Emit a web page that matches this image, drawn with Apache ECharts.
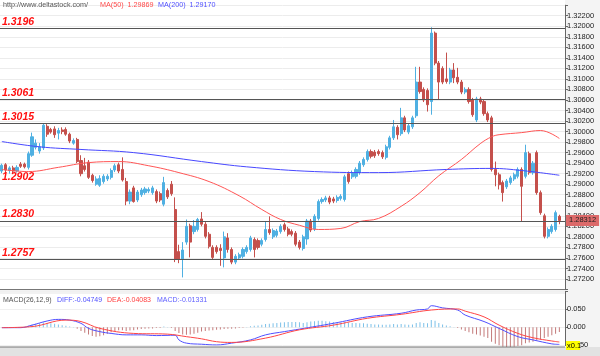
<!DOCTYPE html>
<html><head><meta charset="utf-8">
<script src="https://cdn.jsdelivr.net/npm/echarts@6/dist/echarts.min.js"></script>
<style>html,body{margin:0;padding:0;background:#fff}#c{width:600px;height:356px}</style>
</head><body><div id="c"></div>
<script>
const opens=[1.2925,1.2937,1.2926,1.2931,1.2925,1.2938,1.2938,1.2932,1.2955,1.2970,1.2963,1.2969,1.3010,1.3004,1.3005,1.2997,1.3003,1.3004,1.2995,1.2978,1.2985,1.2945,1.2935,1.2942,1.2917,1.2900,1.2898,1.2905,1.2910,1.2913,1.2927,1.2937,1.2928,1.2905,1.2868,1.2893,1.2870,1.2880,1.2884,1.2887,1.2884,1.2886,1.2882,1.2862,1.2888,1.2900,1.2852,1.2772,1.2757,1.2790,1.2821,1.2810,1.2814,1.2834,1.2824,1.2805,1.2780,1.2780,1.2778,1.2760,1.2798,1.2776,1.2752,1.2760,1.2763,1.2772,1.2776,1.2795,1.2793,1.2786,1.2795,1.2814,1.2800,1.2803,1.2810,1.2823,1.2815,1.2810,1.2807,1.2790,1.2778,1.2796,1.2830,1.2815,1.2835,1.2867,1.2870,1.2874,1.2872,1.2869,1.2873,1.2871,1.2920,1.2914,1.2915,1.2922,1.2937,1.2947,1.2962,1.2961,1.2962,1.2960,1.2951,1.2970,1.2988,1.3008,1.2996,1.3026,1.2999,1.3009,1.3030,1.3094,1.3080,1.3078,1.3057,1.3187,1.3130,1.3120,1.3100,1.3094,1.3117,1.3103,1.3094,1.3075,1.3080,1.3060,1.3022,1.3062,1.3057,1.3034,1.3026,1.2928,1.2918,1.2903,1.2895,1.2903,1.2910,1.2915,1.2928,1.2915,1.2958,1.2922,1.2960,1.2884,1.2840,1.2801,1.2810,1.2814,1.2839];
const closes=[1.2936,1.2927,1.2931,1.2925,1.2932,1.2934,1.2933,1.2958,1.2990,1.2978,1.2971,1.3012,1.2995,1.2999,1.2994,1.3002,1.3000,1.2995,1.2982,1.2983,1.2943,1.2920,1.2928,1.2913,1.2907,1.2910,1.2911,1.2915,1.2915,1.2926,1.2935,1.2925,1.2908,1.2868,1.2885,1.2867,1.2885,1.2889,1.2891,1.2890,1.2893,1.2868,1.2870,1.2903,1.2876,1.2882,1.2757,1.2757,1.2775,1.2820,1.2790,1.2820,1.2833,1.2824,1.2801,1.2782,1.2761,1.2772,1.2774,1.2800,1.2776,1.2752,1.2763,1.2766,1.2776,1.2780,1.2798,1.2776,1.2780,1.2793,1.2814,1.2808,1.2812,1.2811,1.2820,1.2814,1.2805,1.2805,1.2786,1.2780,1.2800,1.2830,1.2813,1.2839,1.2867,1.2871,1.2874,1.2866,1.2868,1.2875,1.2877,1.2914,1.2905,1.2922,1.2928,1.2940,1.2947,1.2962,1.2953,1.2954,1.2958,1.2952,1.2971,1.2988,1.3009,1.2994,1.3026,1.3003,1.3011,1.3026,1.3094,1.3076,1.3060,1.3051,1.3187,1.3130,1.3094,1.3094,1.3095,1.3117,1.3102,1.3094,1.3075,1.3080,1.3057,1.3032,1.3062,1.3056,1.3034,1.3022,1.2928,1.2918,1.2899,1.2884,1.2906,1.2912,1.2918,1.2928,1.2896,1.2960,1.2922,1.2940,1.2884,1.2846,1.2801,1.2814,1.2820,1.2846,1.28312];
const lows=[1.2921,1.2922,1.2920,1.2921,1.2922,1.2931,1.2930,1.2928,1.2952,1.2966,1.2958,1.2965,1.2990,1.2996,1.2988,1.2985,1.2995,1.2992,1.2978,1.2975,1.2940,1.2915,1.2924,1.2910,1.2903,1.2897,1.2895,1.2901,1.2906,1.2909,1.2923,1.2921,1.2905,1.2860,1.2862,1.2865,1.2866,1.2876,1.2880,1.2883,1.2880,1.2864,1.2866,1.2858,1.2872,1.2878,1.2752,1.2750,1.2723,1.2785,1.2761,1.2805,1.2810,1.2820,1.2797,1.2778,1.2757,1.2768,1.2745,1.2742,1.2770,1.2748,1.2748,1.2756,1.2759,1.2768,1.2772,1.2761,1.2776,1.2782,1.2791,1.2804,1.2796,1.2799,1.2806,1.2810,1.2801,1.2801,1.2782,1.2776,1.2774,1.2785,1.2809,1.2811,1.2831,1.2863,1.2866,1.2862,1.2864,1.2865,1.2869,1.2867,1.2901,1.2910,1.2911,1.2918,1.2933,1.2943,1.2949,1.2950,1.2954,1.2948,1.2947,1.2966,1.2984,1.2985,1.2992,1.2999,1.2995,1.3005,1.3026,1.3072,1.3056,1.3038,1.3032,1.3126,1.3060,1.3090,1.3091,1.3090,1.3092,1.3090,1.3071,1.3071,1.3053,1.3028,1.3018,1.3052,1.3030,1.3018,1.2924,1.2896,1.2890,1.2867,1.2891,1.2899,1.2906,1.2911,1.2830,1.2911,1.2918,1.2918,1.2880,1.2842,1.2797,1.2797,1.2806,1.2810,1.2824];
const highs=[1.2939,1.2940,1.2934,1.2935,1.2936,1.2942,1.2941,1.2962,1.2998,1.2985,1.2978,1.3015,1.3014,1.3007,1.3010,1.3007,1.3008,1.3008,1.2998,1.2987,1.2988,1.2955,1.2950,1.2946,1.2920,1.2915,1.2917,1.2919,1.2919,1.2930,1.2939,1.2941,1.2951,1.2912,1.2890,1.2897,1.2889,1.2893,1.2895,1.2894,1.2897,1.2890,1.2886,1.2914,1.2892,1.2906,1.2875,1.2785,1.2790,1.2833,1.2825,1.2832,1.2836,1.2847,1.2828,1.2809,1.2784,1.2784,1.2786,1.2810,1.2807,1.2780,1.2767,1.2770,1.2780,1.2784,1.2802,1.2799,1.2797,1.2797,1.2829,1.2839,1.2816,1.2815,1.2824,1.2827,1.2819,1.2814,1.2811,1.2794,1.2804,1.2834,1.2834,1.2843,1.2871,1.2875,1.2878,1.2878,1.2876,1.2879,1.2881,1.2918,1.2924,1.2926,1.2932,1.2944,1.2951,1.2966,1.2966,1.2965,1.2966,1.2964,1.2975,1.2992,1.3022,1.3012,1.3045,1.3030,1.3015,1.3030,1.3123,1.3123,1.3084,1.3082,1.3198,1.3190,1.3134,1.3124,1.3150,1.3121,1.3130,1.3121,1.3098,1.3084,1.3084,1.3064,1.3066,1.3066,1.3061,1.3038,1.3030,1.2943,1.2922,1.2907,1.2910,1.2916,1.2922,1.2932,1.2932,1.2975,1.2962,1.2944,1.2964,1.2888,1.2844,1.2818,1.2824,1.2850,1.2842];
// moving averages: [candle index, value]
const ma50=[[0,1.2928],[7,1.2924],[15,1.2932],[23,1.2941],[31,1.2943],[39,1.2935],[47,1.2922],[55,1.2905],[63,1.2878],[69,1.2852],[74,1.2833],[79,1.2822],[84,1.2814],[90,1.2816],[95,1.2829],[100,1.2835],[106,1.2858],[111,1.2884],[116,1.2916],[122,1.2947],[127,1.2977],[130,1.2990],[132,1.2994],[138,1.2998],[143,1.3002],[148,1.29869]];
const ma200=[[0,1.2981],[10,1.2971],[21,1.2966],[35,1.2960],[53,1.2943],[65,1.2933],[83,1.2924],[100,1.2922],[118,1.2928],[130,1.2930],[138,1.2926],[148,1.2917]];
const diff=[[0,-0.001],[5,-0.001],[8,0.006],[12,0.0175],[15,0.022],[18,0.020],[21,0.011],[23,-0.003],[26,-0.012],[29,-0.017],[33,-0.021],[37,-0.021],[41,-0.023],[46,-0.022],[47,-0.035],[49,-0.044],[53,-0.047],[57,-0.049],[61,-0.044],[66,-0.035],[70,-0.021],[75,-0.012],[79,-0.005],[88,0.011],[97,0.029],[106,0.039],[110,0.048],[113,0.051],[114,0.060],[117,0.054],[121,0.048],[123,0.034],[128,0.016],[132,-0.003],[137,-0.026],[141,-0.035],[146,-0.046],[148,-0.04749]];
const dea=[[0,-0.001],[8,0.002],[17,0.020],[21,0.016],[26,-0.003],[35,-0.017],[44,-0.019],[49,-0.026],[53,-0.032],[57,-0.040],[61,-0.042],[70,-0.030],[79,-0.007],[88,0.006],[97,0.025],[106,0.036],[114,0.048],[121,0.051],[123,0.045],[128,0.029],[132,0.006],[137,-0.017],[141,-0.029],[146,-0.038],[148,-0.04083]];
const hist=[0,0,0,0,0,0,0,0.004,0.008,0.010,0.011,0.013,0.012,0.011,0.010,0.008,0.006,0.004,0.002,0.001,-0.004,-0.010,-0.015,-0.020,-0.024,-0.026,-0.025,-0.022,-0.018,-0.014,-0.010,-0.008,-0.008,-0.010,-0.009,-0.008,-0.006,-0.005,-0.004,-0.003,-0.003,-0.002,-0.002,0.002,0.001,-0.002,-0.010,-0.016,-0.020,-0.021,-0.020,-0.018,-0.015,-0.012,-0.010,-0.009,-0.008,-0.007,-0.006,-0.005,-0.004,-0.004,-0.003,-0.002,-0.001,0.001,0.003,0.004,0.005,0.007,0.009,0.010,0.011,0.012,0.013,0.014,0.015,0.015,0.015,0.014,0.012,0.014,0.016,0.017,0.018,0.018,0.017,0.016,0.015,0.014,0.013,0.014,0.013,0.012,0.012,0.011,0.011,0.010,0.009,0.008,0.008,0.007,0.007,0.008,0.009,0.008,0.009,0.008,0.007,0.008,0.012,0.014,0.012,0.011,0.020,0.018,0.012,0.008,0.005,0.003,0.001,-0.002,-0.006,-0.010,-0.014,-0.018,-0.020,-0.023,-0.026,-0.030,-0.040,-0.046,-0.050,-0.054,-0.055,-0.055,-0.054,-0.052,-0.050,-0.044,-0.042,-0.040,-0.036,-0.034,-0.030,-0.026,-0.022,-0.018,-0.01331];
const levels=[1.3196,1.3061,1.3015,1.2902,1.2830,1.2757];
const levelLineShown=[true,true,true,false,true,true];
const lastPrice=1.28312;
const slotCount=150;
const cats=[];for(let i=0;i<slotCount;i++)cats.push(String(i));

const ch=echarts.init(document.getElementById('c'),null,{renderer:'canvas'});
const F='Liberation Sans';
const candle=opens.map((o,i)=>[o,closes[i],lows[i],highs[i]]);
const lvl=levels.map((v,i)=>({yAxis:v,lineStyle:{type:'solid',color:levelLineShown[i]?'#555':'rgba(0,0,0,0)',width:1.2},
  label:{show:true,position:'insideStartTop',distance:[2,1],formatter:v.toFixed(4),color:'#ff1010',fontFamily:F,fontSize:10.5,fontWeight:'bold',fontStyle:'italic'}}));
lvl.push({yAxis:lastPrice,lineStyle:{color:'rgba(0,0,0,0)'},label:{show:true,position:'end',distance:1,formatter:lastPrice.toFixed(5),color:'#222',fontFamily:F,fontSize:7.5,backgroundColor:'#dc6a6a',padding:[2,3,1,3]}});

ch.setOption({
  animation:false,backgroundColor:'#fff',
  grid:[{left:0,right:35,top:5.2,height:284.3},{left:0,right:35,top:291.3,height:54}],
  xAxis:[{type:'category',data:cats,gridIndex:0,boundaryGap:true,show:false},
         {type:'category',data:cats,gridIndex:1,boundaryGap:true,show:false}],
  yAxis:[{type:'value',gridIndex:0,position:'right',min:1.270,max:1.324,interval:0.002,
          axisLine:{show:true,lineStyle:{color:'#666'}},axisTick:{show:true,length:3,lineStyle:{color:'#666'}},
          axisLabel:{margin:2,fontFamily:F,fontSize:7.5,color:'#222',formatter:v=>(v<1.2705||v>1.3235)?'':v.toFixed(5)},
          splitLine:{lineStyle:{color:'#ececec'}}},
         {type:'value',gridIndex:1,position:'right',min:-0.05,max:0.10,interval:0.05,
          axisLine:{show:true,lineStyle:{color:'#666'}},axisTick:{show:true,length:3,lineStyle:{color:'#666'}},
          axisLabel:{margin:2,fontFamily:F,fontSize:7.5,color:'#222',formatter:v=>v>0.09?'':(Math.abs(v)<1e-9?'0.000':v.toFixed(3))},
          splitLine:{lineStyle:{color:'#f0f0f0'}}}],
  graphic:[
    {type:'rect',z:-1,silent:true,shape:{x:565,y:0,width:35,height:356},style:{fill:'#f4f4f4'}},
    {type:'rect',z:-1,silent:true,shape:{x:0,y:290,width:565,height:4},style:{fill:'#f2f2f2'}},
    {type:'line',z:5,silent:true,shape:{x1:0,y1:289.5,x2:565,y2:289.5},style:{stroke:'#777',lineWidth:1.2}},
    {type:'rect',z:5,silent:true,shape:{x:0,y:347,width:600,height:9},style:{fill:'#e2e2e2'}},
    {type:'line',z:5,silent:true,shape:{x1:0,y1:347,x2:565,y2:347},style:{stroke:'#777',lineWidth:1.2}},
    {type:'text',z:6,left:3,top:2,style:{text:'http://www.deltastock.com/',fill:'#555',font:'7.2px "Liberation Sans"'}},
    {type:'text',z:6,left:100,top:2,style:{text:'MA(50)  1.29869',fill:'#ff4a4a',font:'7.2px "Liberation Sans"'}},
    {type:'text',z:6,left:158,top:2,style:{text:'MA(200)  1.29170',fill:'#5050ff',font:'7.2px "Liberation Sans"'}},
    {type:'text',z:6,left:3,top:297,style:{text:'MACD(26,12,9)',fill:'#555',font:'7px "Liberation Sans"'}},
    {type:'text',z:6,left:57,top:297,style:{text:'DIFF:-0.04749',fill:'#5050ff',font:'7px "Liberation Sans"'}},
    {type:'text',z:6,left:107,top:297,style:{text:'DEA:-0.04083',fill:'#ff4040',font:'7px "Liberation Sans"'}},
    {type:'text',z:6,left:157,top:297,style:{text:'MACD:-0.01331',fill:'#6060ff',font:'7px "Liberation Sans"'}},
    {type:'rect',z:7,silent:true,shape:{x:566,y:341,width:14,height:9},style:{fill:'#ffff00'}},
    {type:'text',z:8,left:567,top:342,style:{text:'x0.1',fill:'#000',font:'7.5px "Liberation Sans"'}}
  ],
  series:[
    {type:'candlestick',xAxisIndex:0,yAxisIndex:0,data:candle,barWidth:2.6,
     itemStyle:{color:'#4fb0e2',color0:'#c4504c',borderColor:'#4fb0e2',borderColor0:'#c4504c',borderWidth:1}},
    {type:'line',xAxisIndex:0,yAxisIndex:0,data:ma50,smooth:0.4,showSymbol:false,lineStyle:{color:'#ff5555',width:1}},
    {type:'line',xAxisIndex:0,yAxisIndex:0,data:ma200,smooth:0.4,showSymbol:false,lineStyle:{color:'#4848ff',width:1},
     markLine:{silent:true,precision:5,symbol:['none','none'],animation:false,data:lvl}},
    {type:'bar',xAxisIndex:1,yAxisIndex:1,data:hist,barWidth:1,clip:false,
     itemStyle:{color:p=>p.value>=0?'#7cc0e8':'#c47a7a'}},
    {type:'line',xAxisIndex:1,yAxisIndex:1,data:diff,smooth:0.4,showSymbol:false,lineStyle:{color:'#4f4fff',width:1}},
    {type:'line',xAxisIndex:1,yAxisIndex:1,data:dea,smooth:0.4,showSymbol:false,lineStyle:{color:'#ff4545',width:1}}
  ]
});
</script></body></html>
